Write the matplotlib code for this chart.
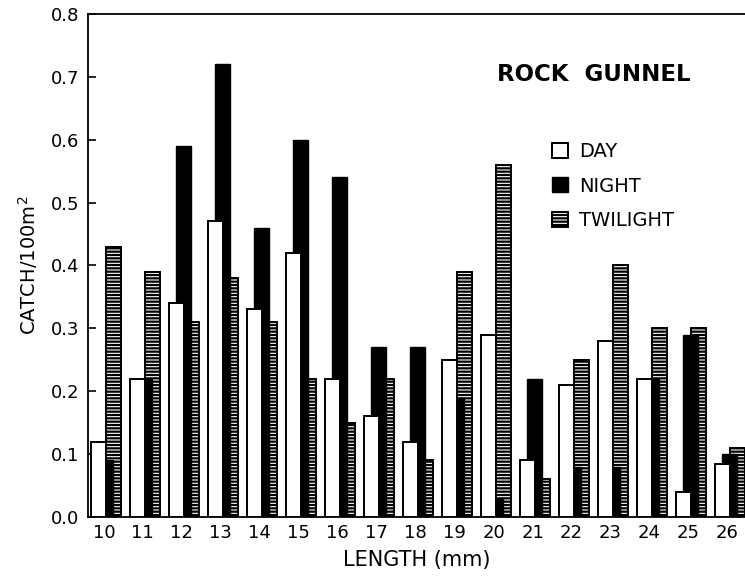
import matplotlib
matplotlib.use('Agg')
import matplotlib.pyplot as plt
import numpy as np

# catch per 100 m^2 by length class
lengths = [10, 11, 12, 13, 14, 15, 16, 17, 18, 19, 20, 21, 22, 23, 24, 25, 26]
day = [0.12, 0.22, 0.34, 0.47, 0.33, 0.42, 0.22, 0.16, 0.12, 0.25, 0.29,
       0.09, 0.21, 0.28, 0.22, 0.04, 0.085]
night = [0.09, 0.22, 0.59, 0.72, 0.46, 0.60, 0.54, 0.27, 0.27, 0.19, 0.03,
         0.22, 0.08, 0.08, 0.22, 0.29, 0.10]
twilight = [0.43, 0.39, 0.31, 0.38, 0.31, 0.22, 0.15, 0.22, 0.09, 0.39, 0.56,
            0.06, 0.25, 0.40, 0.30, 0.30, 0.11]

plt.rcParams['font.family'] = 'DejaVu Sans'
plt.rcParams['hatch.linewidth'] = 1.6

fig = plt.figure(figsize=(7.45, 5.79), dpi=100)
ax = fig.add_axes([0.118, 0.107, 0.882, 0.869])

x = np.array(lengths)
w = 0.385
b_night = ax.bar(x + 0.05, night, w, color='black', edgecolor='black',
                 linewidth=1, zorder=1, label='NIGHT')
b_twi = ax.bar(x + 0.25, twilight, w, facecolor='none', edgecolor='black',
               hatch='-----', linewidth=1.4, zorder=2, label='TWILIGHT')
b_day = ax.bar(x - 0.14, day, w, color='white', edgecolor='black',
               linewidth=1.4, zorder=3, label='DAY')

ax.set_xlim(9.59, 26.45)
ax.set_ylim(0, 0.8)
ax.set_yticks(np.arange(0, 0.81, 0.1))
ax.set_yticklabels(['%.1f' % v for v in np.arange(0, 0.81, 0.1)])
ax.set_xticks(lengths)
ax.set_xticklabels([str(v) for v in lengths])
ax.tick_params(axis='y', direction='in', length=6, width=1.2, labelsize=13, pad=6)
ax.tick_params(axis='x', length=0, labelsize=13, pad=5)
ax.spines['right'].set_visible(False)
for s in ['left', 'bottom', 'top']:
    ax.spines[s].set_linewidth(1.3)

ax.set_xlabel('LENGTH (mm)', fontsize=15, labelpad=6)
ax.set_ylabel('CATCH/100m$^2$', fontsize=14, labelpad=8)

ax.text(0.622, 0.88, 'ROCK  GUNNEL', transform=ax.transAxes, fontsize=16.5,
        fontweight='bold', va='center', ha='left')

ax.legend([b_day, b_night, b_twi], ['DAY', 'NIGHT', 'TWILIGHT'],
          loc='upper left', bbox_to_anchor=(0.68, 0.78), frameon=False,
          fontsize=14, handlelength=0.8, handleheight=0.8, handletextpad=0.6,
          labelspacing=0.8)

fig.savefig('out.png', dpi=100)
